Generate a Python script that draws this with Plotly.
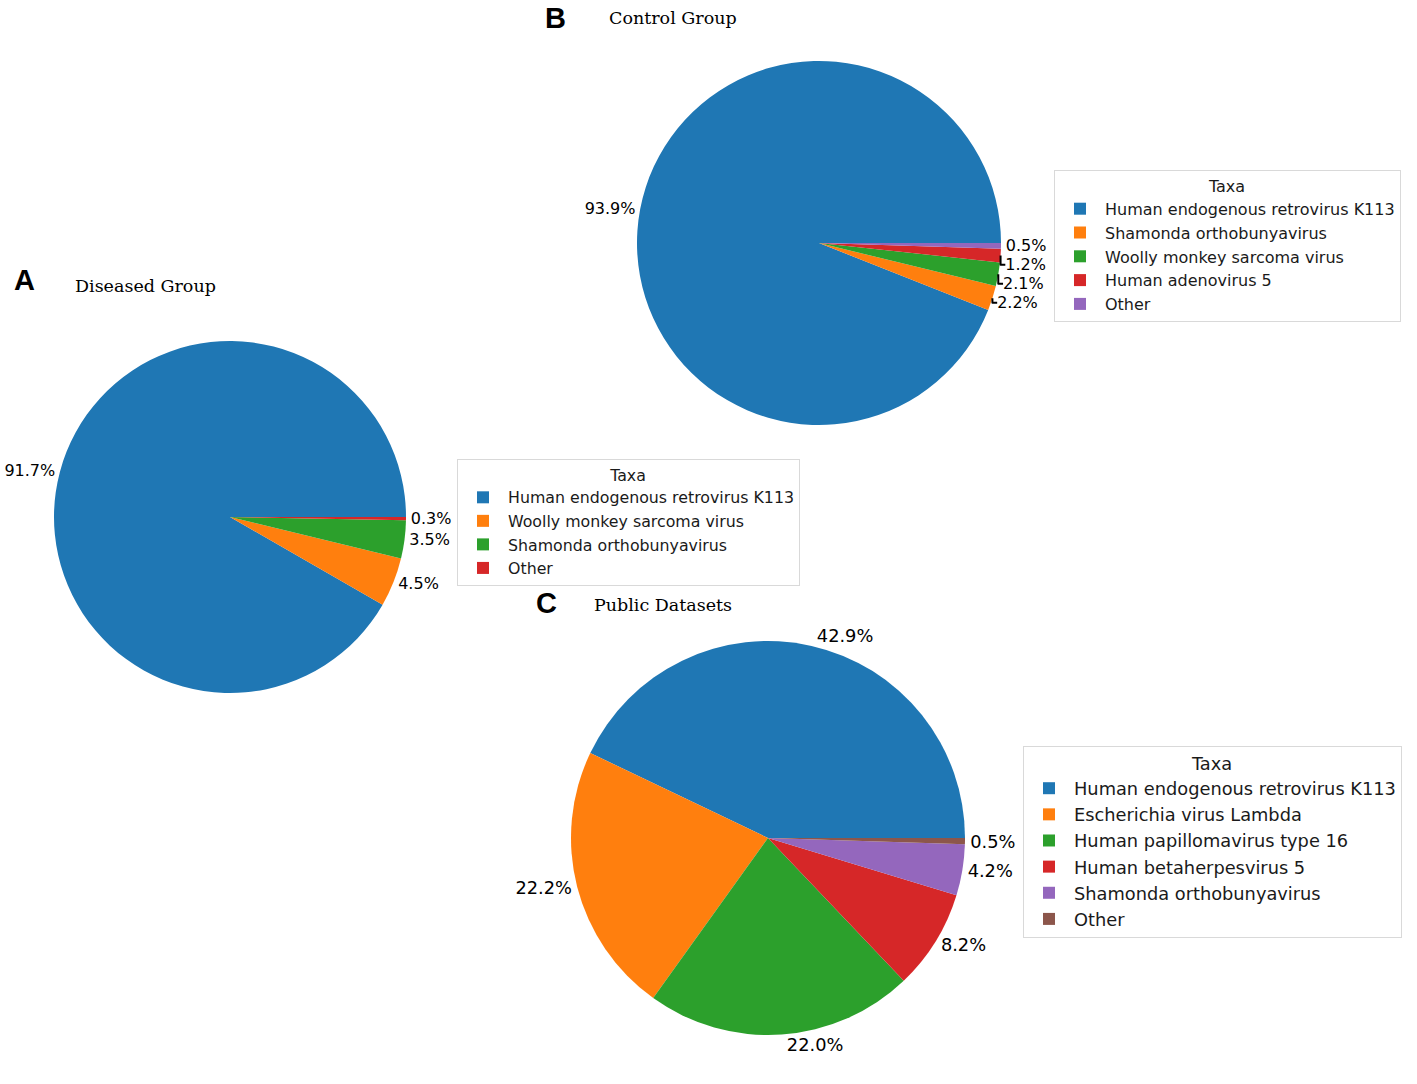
import plotly.graph_objects as go

colors = ["#1f77b4", "#ff7f0e", "#2ca02c", "#d62728", "#9467bd", "#8c564b"]

labels_a = ["Human endogenous retrovirus K113", "Woolly monkey sarcoma virus",
            "Shamonda orthobunyavirus", "Other"]
values_a = [91.7, 4.5, 3.5, 0.3]

labels_b = ["Human endogenous retrovirus K113", "Shamonda orthobunyavirus",
            "Woolly monkey sarcoma virus", "Human adenovirus 5", "Other"]
values_b = [93.9, 2.2, 2.1, 1.2, 0.5]

labels_c = ["Human endogenous retrovirus K113", "Escherichia virus Lambda",
            "Human papillomavirus type 16", "Human betaherpesvirus 5",
            "Shamonda orthobunyavirus", "Other"]
values_c = [42.9, 22.2, 22.0, 8.2, 4.2, 0.5]

W, H = 1417, 1084


def px(x):
    return x / W


def py(y):
    return 1 - y / H


def dom(x0, x1, y0, y1):
    return dict(x=[px(x0), px(x1)], y=[py(y1), py(y0)])


fig = go.Figure()


def add_pie(labels, values, domain, legend, fsize, k):
    # matplotlib-like: first wedge starts at 3 o'clock, going counterclockwise
    rot = 90 - 360 * values[0] / sum(values)
    fig.add_trace(go.Pie(
        labels=[lab + "\u200b" * k for lab in labels], values=values, sort=False,
        direction="counterclockwise", rotation=rot, domain=domain, legend=legend,
        marker=dict(colors=colors[:len(values)], line=dict(width=0)),
        textposition="outside", texttemplate="%{value:.1f}%",
        textfont=dict(family="DejaVu Sans", size=fsize, color="black"),
        hoverinfo="label+value", showlegend=True,
    ))


add_pie(labels_a, values_a, dom(54, 406, 341, 693), "legend", 16, 0)
add_pie(labels_b, values_b, dom(637, 1001, 61, 425), "legend2", 16, 1)
add_pie(labels_c, values_c, dom(571, 965, 641, 1035), "legend3", 17.8, 2)


def leg(x, y, size):
    return dict(x=px(x), y=py(y), xanchor="left", yanchor="top",
                bgcolor="white", bordercolor="#d9d9d9", borderwidth=1,
                font=dict(family="DejaVu Sans", size=size, color="#1a1a1a"),
                title=dict(text="Taxa", side="top center",
                           font=dict(family="DejaVu Sans", size=size, color="#1a1a1a")),
                tracegroupgap=0, itemsizing="constant", itemwidth=40)


fig.update_layout(
    width=W, height=H, margin=dict(l=0, r=0, t=0, b=0, autoexpand=False),
    paper_bgcolor="white", plot_bgcolor="white",
    legend=leg(457, 459, 15.8),
    legend2=leg(1054, 170, 16),
    legend3=leg(1023, 746, 17.8),
)


def ann(text, x, y, family, size, bold=False, yanchor="middle"):
    fig.add_annotation(text=f"<b>{text}</b>" if bold else text, x=px(x), y=py(y),
                       xref="paper", yref="paper", xanchor="left", yanchor=yanchor,
                       showarrow=False, font=dict(family=family, size=size, color="black"))


ann("A", 12, 280, "Liberation Sans", 29, True)
ann("Diseased Group", 73, 286, "DejaVu Serif", 17.5)
ann("B", 543, 0, "Liberation Sans", 29, True, "top")
ann("Control Group", 607, 18, "DejaVu Serif", 17.5)
ann("C", 534, 603, "Liberation Sans", 29, True)
ann("Public Datasets", 592, 605, "DejaVu Serif", 17.5)

fig.write_html("out.html", config={"displayModeBar": False},
               post_script="document.body.style.margin='0px';")
